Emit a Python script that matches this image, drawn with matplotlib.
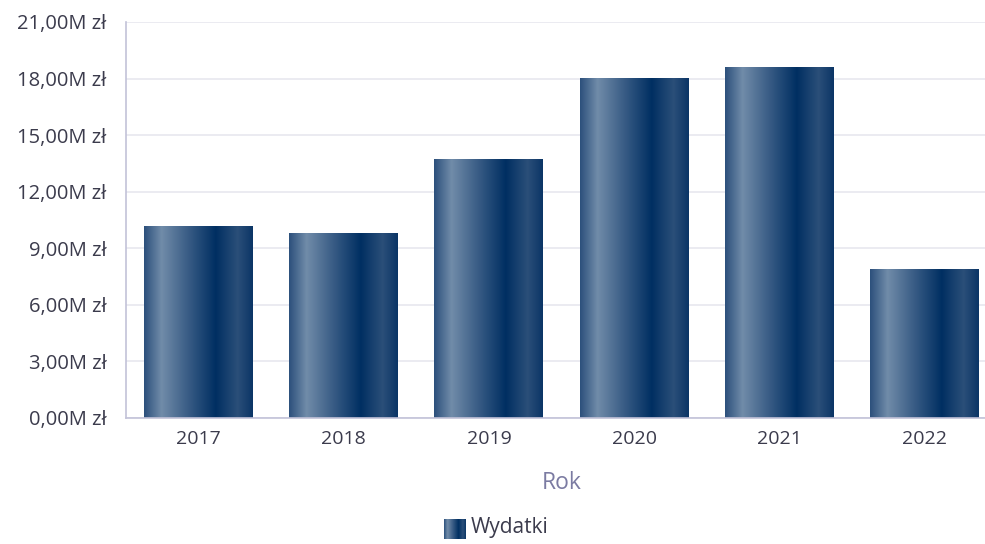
import numpy as np
import matplotlib
matplotlib.use('Agg')
import matplotlib.pyplot as plt
from matplotlib.colors import LinearSegmentedColormap
from matplotlib.ticker import FuncFormatter

# Data (millions of zł)
years = ['2017', '2018', '2019', '2020', '2021', '2022']
wydatki = [10.13, 9.81, 13.73, 17.98, 18.61, 7.90]
y_ticks = [0, 3, 6, 9, 12, 15, 18, 21]

plt.rcParams['font.family'] = ['Open Sans', 'DejaVu Sans']

grad = LinearSegmentedColormap.from_list('bar_grad', [
    (0.00, '#2c507c'),
    (0.16, '#718ca9'),
    (0.40, '#3a5d86'),
    (0.66, '#002f62'),
    (0.86, '#2b4f79'),
    (1.00, '#0b3566'),
])
ramp = np.linspace(0, 1, 256).reshape(1, -1)

fig = plt.figure(figsize=(9.85, 5.44), dpi=100)
W, H = 985, 544
# plot area in pixels: left 126, right 997 (runs past edge), top 22, bottom 418
ax = fig.add_axes([126 / W, 1 - 418 / H, (997 - 126) / W, (418 - 22) / H])

x = np.arange(len(years))
bars = ax.bar(x, wydatki, width=0.75, color='none', edgecolor='none', zorder=2)
for b in bars:
    ax.imshow(ramp, cmap=grad, aspect='auto', zorder=2,
              extent=[b.get_x(), b.get_x() + b.get_width(), 0, b.get_height()])

ax.set_xlim(-0.5, len(years) - 0.5)
ax.set_ylim(0, 21)
ax.set_yticks(y_ticks)
ax.yaxis.set_major_formatter(FuncFormatter(lambda v, p: f'{v:.2f}'.replace('.', ',') + 'M zł'))
ax.set_xticks(x)
ax.set_xticklabels(years)

ax.grid(axis='y', color='#e8e8ef', linewidth=1.2, zorder=0)
ax.set_axisbelow(True)
for s in ['top', 'right']:
    ax.spines[s].set_visible(False)
ax.spines['left'].set_color('#c2c2d8')
ax.spines['bottom'].set_color('#c2c2d8')
ax.spines['left'].set_linewidth(1.2)
ax.spines['bottom'].set_linewidth(1.2)
ax.tick_params(axis='y', length=0, labelsize=14.5, labelcolor='#3b3b4c', pad=14)
ax.tick_params(axis='x', length=0, labelsize=14, labelcolor='#3b3b4c', pad=9)

ax.set_xlabel('Rok', fontsize=16.5, color='#7b7ba2', labelpad=16)

# legend: gradient swatch + label
lax = fig.add_axes([444 / W, 1 - 539 / H, 22 / W, 20 / H])
lax.imshow(ramp, cmap=grad, aspect='auto')
lax.set_axis_off()
fig.text(471 / W, 1 - 528 / H, 'Wydatki', fontsize=15, color='#3b3b4c', va='center', ha='left')

fig.savefig('out.png', dpi=100)
